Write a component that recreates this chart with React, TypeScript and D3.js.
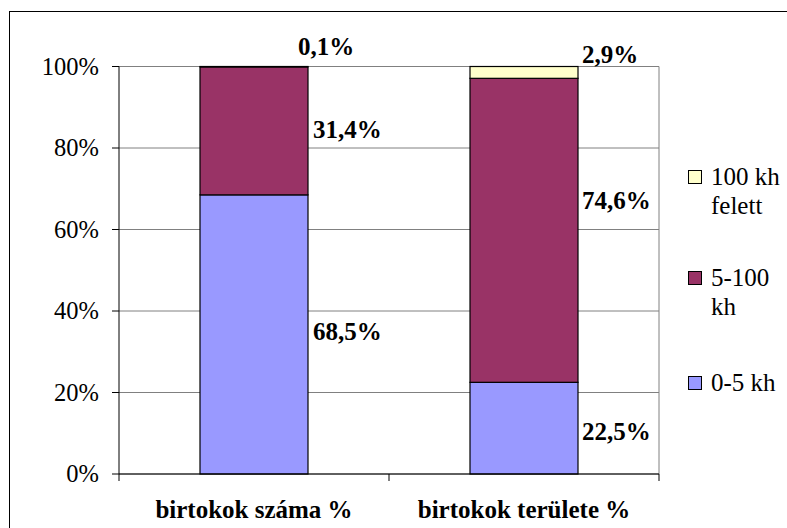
import React from "react";
import * as d3 from "d3";

const categories = ["birtokok száma %", "birtokok területe %"];
const seriesNames = ["0-5 kh", "5-100 kh", "100 kh felett"];
const small = [68.5, 22.5];
const medium = [31.4, 74.6];
const large = [0.1, 2.9];
const yTicks = [0, 20, 40, 60, 80, 100];
const legendLines = [["100 kh", "felett"], ["5-100", "kh"], ["0-5 kh"]];

const colors = ["#9999FF", "#993366", "#FFFFCC"];

// label nudges (dx, dy in px) relative to the segment's middle, right of bar
const labelNudge = [
  [[0, -3], [0, -2], [-15, -20]],
  [[-1, 3], [-1, -30], [-1, -18]],
];

const font = '"Liberation Serif", "Times New Roman", "DejaVu Serif", serif';

export default function App() {
  const W = 787, H = 528;
  const left = 119, right = 659, top = 66.5, bottom = 474;
  const x = d3.scaleBand<string>().domain(categories).range([left, right]).paddingInner(0.6).paddingOuter(0.3);
  const y = d3.scaleLinear().domain([0, 100]).range([bottom, top]);
  const band = d3.scaleBand<string>().domain(categories).range([left, right]);

  const rows = categories.map((c, i) => ({ cat: c, s0: small[i], s1: medium[i], s2: large[i] }));
  const stack = d3.stack<any>().keys(["s0", "s1", "s2"])(rows);

  const ts = (size: number, bold = false): React.CSSProperties => ({
    fontFamily: font,
    fontSize: size + "px",
    fontWeight: bold ? 700 : 400,
  });

  return (
    <svg width={W} height={H} style={{ position: "absolute", left: 0, top: 0, fontFamily: font }}>
      <rect x={0} y={0} width={W} height={H} fill="#fff" />
      <rect x={9.5} y={11.5} width={W - 9} height={H - 11} fill="none" stroke="#000" strokeWidth={1} />
      {yTicks.map((t) => (
        <line key={t} x1={left} x2={right} y1={y(t)} y2={y(t)} stroke="#808080" strokeWidth={1} />
      ))}
      <line x1={right} x2={right} y1={top} y2={bottom} stroke="#808080" strokeWidth={1} />
      {stack.map((layer, si) =>
        layer.map((d, ci) => (
          <rect
            key={si + "-" + ci}
            x={x(categories[ci])}
            width={x.bandwidth()}
            y={y(d[1])}
            height={y(d[0]) - y(d[1])}
            fill={colors[si]}
            stroke="#000"
            strokeWidth={1.2}
          />
        ))
      )}
      <line x1={left} x2={left} y1={top} y2={bottom} stroke="#000" />
      <line x1={left} x2={right} y1={bottom} y2={bottom} stroke="#000" />
      {yTicks.map((t) => (
        <g key={"yt" + t}>
          <line x1={left - 7} x2={left} y1={y(t)} y2={y(t)} stroke="#000" />
          <text x={left - 20} y={y(t)} dy="0.33em" textAnchor="end" style={ts(24.5)}>
            {t}%
          </text>
        </g>
      ))}
      {[left, left + band.bandwidth(), right].map((xx, i) => (
        <line key={"xt" + i} x1={xx} x2={xx} y1={bottom} y2={bottom + 7} stroke="#000" />
      ))}
      {categories.map((c) => (
        <text key={c} x={(band(c) as number) + band.bandwidth() / 2} y={518} textAnchor="middle" style={ts(25, true)}>
          {c}
        </text>
      ))}
      {stack.map((layer, si) =>
        layer.map((d, ci) => {
          const [dx, dy] = labelNudge[ci][si];
          const v = [small, medium, large][si][ci];
          return (
            <text
              key={"l" + si + ci}
              x={(x(categories[ci]) as number) + x.bandwidth() + 5 + dx}
              y={y((d[0] + d[1]) / 2) + dy}
              dy="0.35em"
              style={ts(25, true)}
            >
              {v.toFixed(1).replace(".", ",")}%
            </text>
          );
        })
      )}
      {legendLines.map((lines, i) => {
        const cy = [177, 278, 383][i];
        const col = colors[2 - i];
        return (
          <g key={"lg" + i}>
            <rect x={688.5} y={cy - 6.5} width={13} height={13} fill={col} stroke="#000" strokeWidth={1} />
            {lines.map((ln, j) => (
              <text key={j} x={711} y={cy + j * 29} dy="0.33em" style={ts(25)}>
                {ln}
              </text>
            ))}
          </g>
        );
      })}
    </svg>
  );
}
